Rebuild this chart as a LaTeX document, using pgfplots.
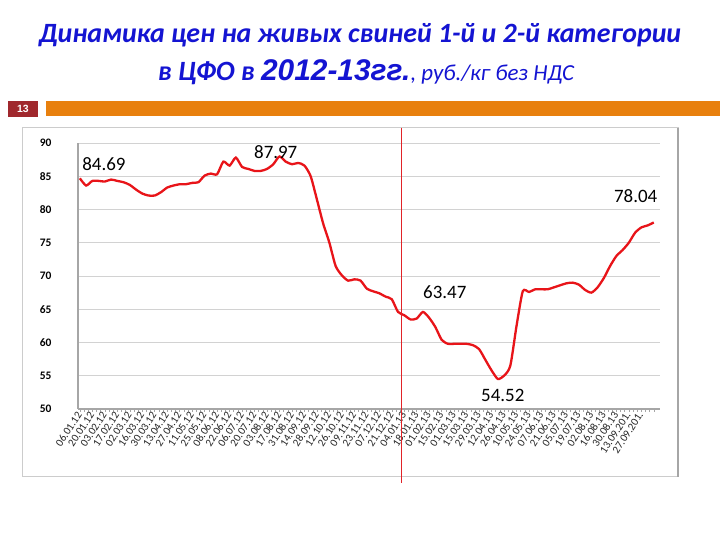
\documentclass[border=0pt]{standalone}
\usepackage{fontspec}
\setmainfont{Carlito}
\newfontfamily\arialfont{Liberation Sans}
\usepackage{pgfplots}
\pgfplotsset{compat=1.18}
\definecolor{titleblue}{RGB}{20,20,210}
\definecolor{linered}{RGB}{232,20,25}
\definecolor{vred}{RGB}{225,35,40}
\definecolor{barorange}{RGB}{232,128,14}
\definecolor{boxred}{RGB}{160,40,45}
\definecolor{axgray}{RGB}{166,166,166}
\definecolor{gridgray}{RGB}{210,210,210}
\begin{document}
\begin{tikzpicture}[x=1bp,y=1bp]
\useasboundingbox (0,0) rectangle (720,540);
\fill[white] (0,0) rectangle (720,540);
% title
\node[font=\fontsize{28}{30}\selectfont\bfseries\itshape, text=titleblue] at (360,505) {Динамика цен на живых свиней 1-й и 2-й категории};
\node[text=titleblue] at (366,468) {{\fontsize{28}{30}\selectfont\bfseries\itshape в ЦФО в }{\arialfont\fontsize{30}{32}\selectfont\bfseries\itshape 2012-13гг.}{\fontsize{23}{25}\selectfont\itshape , руб./кг без НДС}};
% header bar
\fill[boxred] (8,423) rectangle (38,439);
\node[text=white, font=\arialfont\fontsize{10.5}{12}\selectfont\bfseries] at (23,431) {13};
\fill[barorange] (46,424) rectangle (720,439);
% frame
\draw[gray!40, line width=1bp] (22,63) rectangle (678,412);
\draw[gray!70, line width=1.5bp] (678,63) -- (678,412);
\begin{axis}[
  at={(78bp,131bp)}, anchor=south west, scale only axis,
  width=582bp, height=266bp,
  xmin=-0.3, xmax=93, ymin=50, ymax=90,
  axis x line*=bottom, axis y line*=left,
  axis line style={axgray, line width=1.2bp},
  ytick={50,55,...,90},
  ymajorgrids, grid style={gridgray, line width=0.8bp},
  ytick style={draw=none},
  xtick={0,2,...,92},
  minor x tick num=2,
  tick align=outside,
  major tick length=3bp, minor tick length=3bp,
  xtick style={axgray, line width=0.5bp},
  xticklabels={06.01.12,20.01.12,03.02.12,17.02.12,02.03.12,16.03.12,30.03.12,13.04.12,27.04.12,11.05.12,25.05.12,08.06.12,22.06.12,06.07.12,20.07.12,03.08.12,17.08.12,31.08.12,14.09.12,28.09.12,12.10.12,26.10.12,09.11.12,23.11.12,07.12.12,21.12.12,04.01.13,18.01.13,01.02.13,15.02.13,01.03.13,15.03.13,29.03.13,12.04.13,26.04.13,10.05.13,24.05.13,07.06.13,21.06.13,05.07.13,19.07.13,02.08.13,16.08.13,30.08.13,13.09.201.,27.09.201.,{}},
  x tick label style={rotate=57, anchor=east, font=\fontsize{11}{12}\selectfont, text=black!85, inner sep=1bp},
  y tick label style={font=\fontsize{11.5}{12}\selectfont\bfseries, xshift=-20bp},
  /pgf/number format/assume math mode=true,
  clip=false,
]
\addplot[linered, line width=2.3bp, smooth, tension=0.4] coordinates {
(0,84.69)(1,83.6)(2,84.3)(3,84.3)(4,84.2)(5,84.5)(6,84.3)(7,84.1)(8,83.7)(9,83.0)
(10,82.4)(11,82.1)(12,82.1)(13,82.6)(14,83.3)(15,83.6)(16,83.8)(17,83.8)(18,84.0)(19,84.1)
(20,85.1)(21,85.4)(22,85.3)(23,87.2)(24,86.6)(25,87.8)(26,86.4)(27,86.1)(28,85.8)(29,85.8)
(30,86.1)(31,86.8)(32,87.97)(33,87.2)(34,86.8)(35,87.0)(36,86.6)(37,85.0)(38,81.5)(39,77.9)
(40,75.0)(41,71.5)(42,70.1)(43,69.3)(44,69.5)(45,69.3)(46,68.1)(47,67.7)(48,67.4)(49,66.9)
(50,66.5)(51,64.6)(52,64.1)(53,63.47)(54,63.6)(55,64.6)(56,63.7)(57,62.3)(58,60.4)(59,59.8)
(60,59.8)(61,59.8)(62,59.8)(63,59.6)(64,59.0)(65,57.4)(66,55.8)(67,54.52)(68,55.0)(69,56.5)
(70,62.5)(71,67.7)(72,67.6)(73,68.0)(74,68.0)(75,68.0)(76,68.3)(77,68.6)(78,68.9)(79,69.0)
(80,68.7)(81,67.9)(82,67.5)(83,68.3)(84,69.7)(85,71.5)(86,73.0)(87,73.9)(88,75.0)(89,76.5)
(90,77.3)(91,77.6)(92,78.04)
};
\draw[vred, line width=1bp] (axis cs:51.5,92.3) -- (axis cs:51.5,38.9);
\node[font=\fontsize{19}{20}\selectfont] at (axis cs:3.85,86.8) {84.69};
\node[font=\fontsize{19}{20}\selectfont] at (axis cs:31.4,88.7) {87.97};
\node[font=\fontsize{19}{20}\selectfont] at (axis cs:58.5,67.6) {63.47};
\node[font=\fontsize{19}{20}\selectfont] at (axis cs:67.8,52.1) {54.52};
\node[font=\fontsize{19}{20}\selectfont] at (axis cs:89.1,82.0) {78.04};
\end{axis}
\end{tikzpicture}
\end{document}
